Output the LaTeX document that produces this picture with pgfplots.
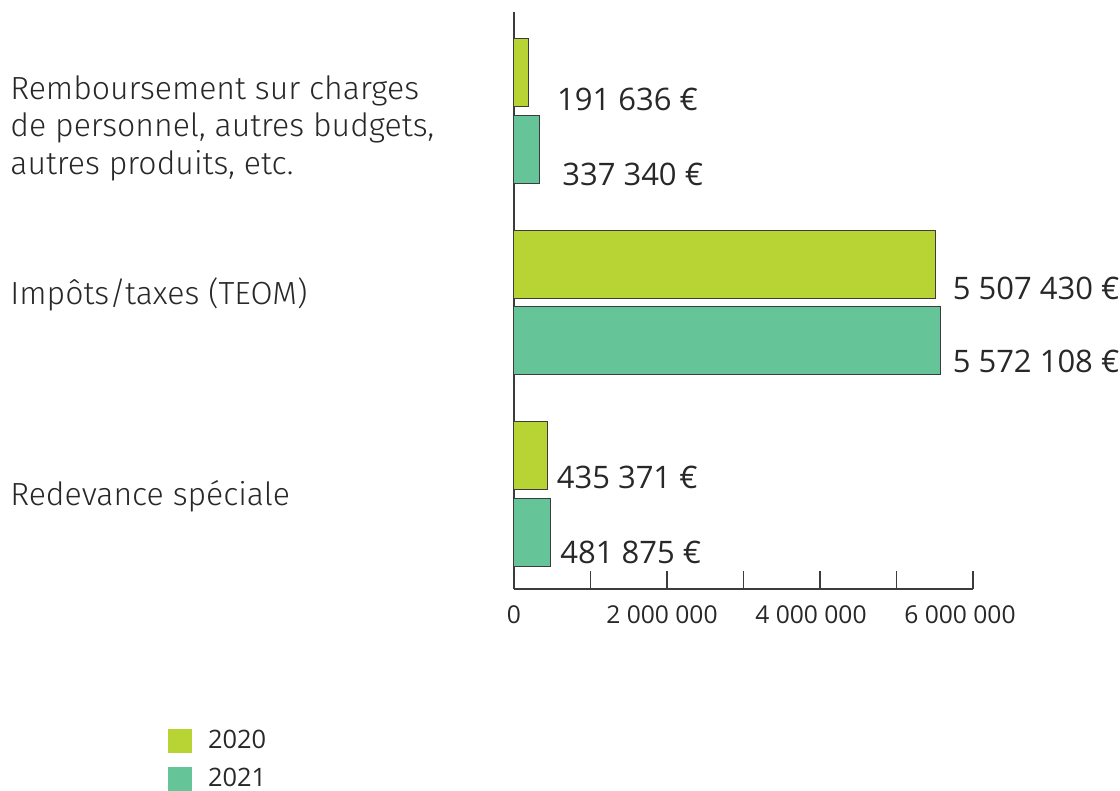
\documentclass[border=0pt]{standalone}
\usepackage{pgfplots}
\pgfplotsset{compat=1.18}
\usepackage{pgfplotstable}
\usepackage{fontspec}
\setmainfont{Open Sans}
\newfontfamily\catfont{Fira Sans Light}
\definecolor{c2020}{RGB}{184,212,52}
\definecolor{c2021}{RGB}{102,197,152}
\definecolor{txt}{RGB}{40,40,40}
\definecolor{axc}{RGB}{60,60,60}

\pgfplotstableread[col sep=comma]{
y,val,dx,dy,lab
0.2,191636,14,-13.5,191~636~€
-0.8,5507430,8.5,-12,5~507~430~€
-1.8,435371,4.5,-10.75,435~371~€
}\dataA
\pgfplotstableread[col sep=comma]{
y,val,dx,dy,lab
-0.2,337340,11,-12.75,337~340~€
-1.2,5572108,6,-10.25,5~572~108~€
-2.2,481875,4.5,-10.25,481~875~€
}\dataB

\begin{document}
\begin{tikzpicture}
\useasboundingbox (0,0) rectangle (560pt,-395.5pt);
\begin{axis}[
  at={(257pt,-294.5pt)}, anchor=south west,
  width=229.5pt, height=288.5pt, scale only axis,
  xmin=0, xmax=6000000, ymin=-2.496, ymax=0.517,
  axis lines=left, axis line style={-, draw=axc, line width=0.7pt},
  xbar, bar width=0.355, bar shift=0pt,
  xtick={0,1000000,2000000,3000000,4000000,5000000,6000000},
  xticklabels={0,,2~000~000\hspace*{5pt},,4~000~000\hspace*{9pt},,6~000~000\hspace*{13pt}},
  scaled x ticks=false,
  tick align=inside, major tick length=9pt,
  xtick style={draw=axc, line width=0.6pt},
  xticklabel style={font=\fontsize{12.3}{14}\selectfont, text=txt, inner sep=0pt, yshift=-8pt},
  ytick={-2,-1,0}, ytick style={draw=none},
  yticklabels={{\raisebox{-5.5pt}[0pt][0pt]{Redevance spéciale}},{\raisebox{-1.2pt}[0pt][0pt]{Impôts/taxes (TEOM)}},{\raisebox{-13.5pt}[0pt][0pt]{\begin{tabular}{@{}l@{}}Remboursement sur charges\\de personnel, autres budgets,\\autres produits, etc.\end{tabular}}}},
  yticklabel style={anchor=west, xshift=-252pt, inner sep=0pt, text=txt, font=\catfont\fontsize{16}{18.75}\selectfont},
  nodes near coords, point meta=explicit symbolic,
  visualization depends on={\thisrow{dx} \as \dx},
  visualization depends on={\thisrow{dy} \as \dy},
  nodes near coords style={anchor=west, inner sep=0pt, xshift=\dx pt, yshift=\dy pt, font=\fontsize{15.5}{18}\selectfont, text=txt},
  legend cell align=left,
  legend style={at={(axis description cs:-0.7538,-0.2426)}, anchor=north west, draw=none, fill=none, inner sep=0pt, outer sep=0pt, column sep=8pt, row sep=7pt, font=\fontsize{12.7}{15}\selectfont, text=txt, nodes={inner sep=0pt}},
  legend image code/.code={\fill[#1,draw=none] (0pt,-6pt) rectangle (12pt,6pt);},
  clip=false,
]
\addplot[fill=c2020, draw=axc, line width=0.5pt] table[x=val, y=y, meta=lab] {\dataA};
\addplot[fill=c2021, draw=axc, line width=0.5pt] table[x=val, y=y, meta=lab] {\dataB};
\legend{2020,2021}
\end{axis}
\end{tikzpicture}
\end{document}
